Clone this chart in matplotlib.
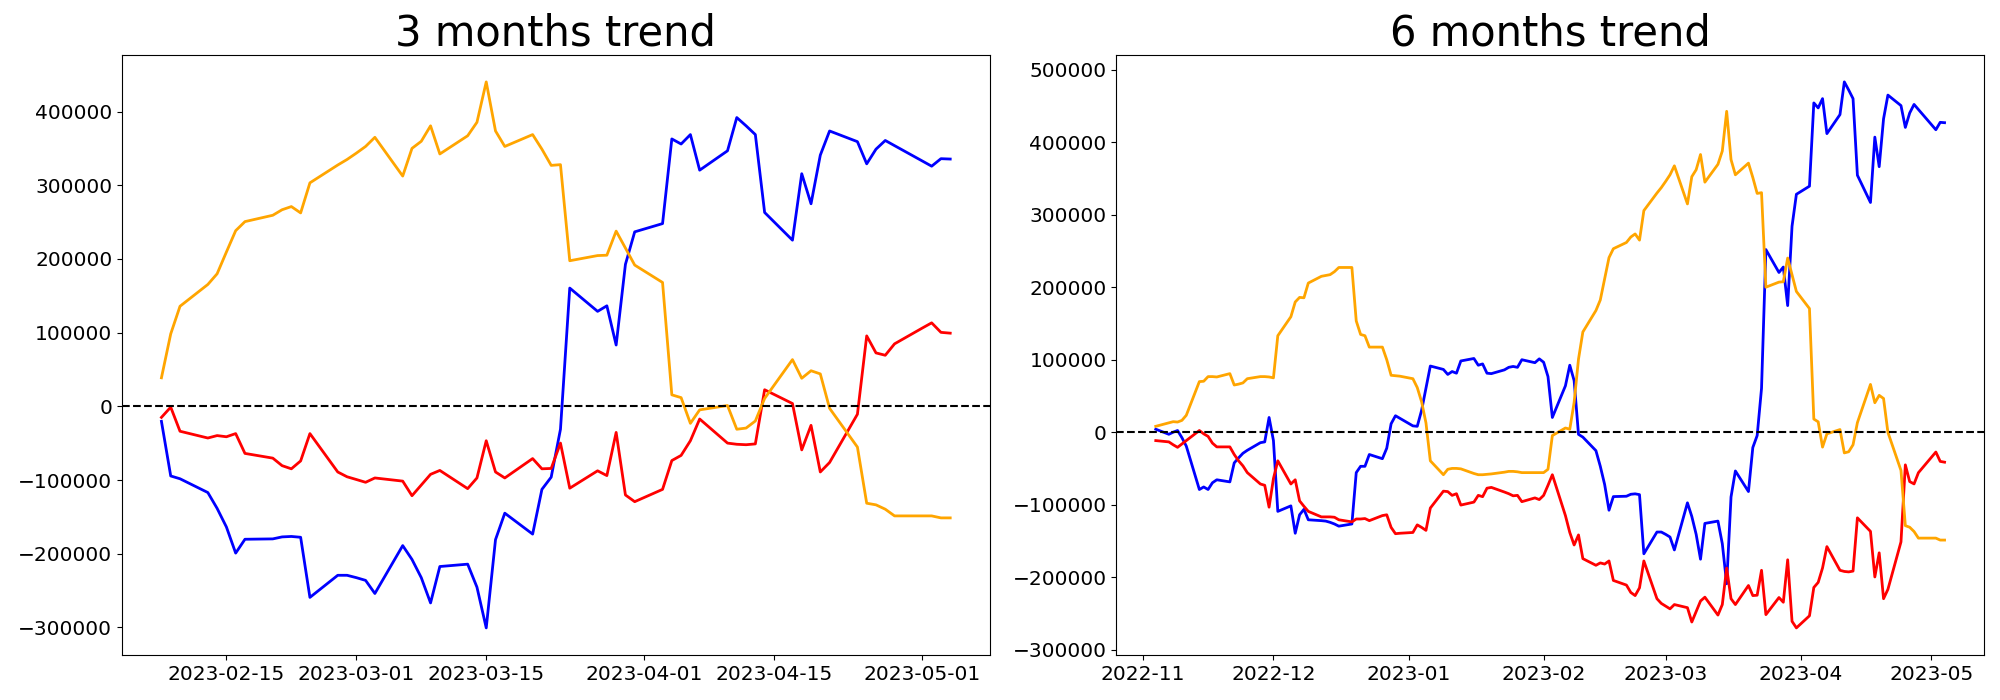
import matplotlib
matplotlib.use('Agg')
from matplotlib import pyplot as plt
import matplotlib.dates as mdates
import pandas as pd

# 3 months window (weekdays 2023-02-08 .. 2023-05-04)
dates_3m = pd.bdate_range('2023-02-08', '2023-05-04')
blue_3m = [-20400, -94500, -98300, -117000, -138500, -163700, -199200, -180400,
           -179900, -177200, -176600, -177700, -259300, -229300, -229300,
           -232500, -236200, -254000, -189000, -207800, -232500, -266800, -217400,
           -214200, -245400, -300700, -180900, -145000, -173400, -112700, -96100,
           -31100, 160500, 128900, 136400, 83200, 192700, 236800,
           248000, 362900, 356000, 368800, 320500, 346800, 391900, 380700, 368800,
           263100, 225500, 315700, 274900, 340900, 373700, 359200, 329100, 349000,
           360800, 353800,
           332900, 325900, 336100, 335600]
orange_3m = [38700, 98300, 135800, 165400, 179900, 209400, 238400, 250700,
             259300, 266800, 271100, 262500, 303300, 327500, 335000,
             343600, 352700, 365100, 312500, 350100, 359700, 380700, 342500,
             367200, 385500, 440300, 373700, 352700, 368800, 349000, 327000,
             328000, 197600, 204600, 205100, 237800, 214800, 191700,
             168100, 15600, 11800, -23100, -4800, 1100, -31100, -29500, -19900,
             10700, 63400, 38100, 48300, 44000, -2700, -55300, -131500, -133700,
             -139600, -148700,
             -148700, -148700, -151400, -151400]
red_3m = [-15000, -1100, -33800, -43000, -39700, -41300, -37000, -63900,
          -70300, -80500, -84800, -74100, -37000, -89100, -95600,
          -99300, -103100, -97200, -101500, -121300, -106800, -92300, -87000,
          -111700, -97200, -46700, -89100, -97200, -70900, -84800, -84300,
          -49900, -111100, -87500, -94000, -35400, -120300, -129400,
          -112700, -73600, -66600, -46700, -17200, -49900, -51500, -52100, -51000,
          22500, 3800, -59100, -25800, -89100, -76200, -10700, 95600, 72500,
          69300, 84800,
          106300, 113300, 100400, 99300]

# 6 months window (weekdays 2022-11-04 .. 2023-05-04)
dates_6m = pd.bdate_range('2022-11-04', '2023-05-04')
blue_6m = [4100, -2900, 0, 2300, -7600, -19200, -79100, -75600, -79100, -69800,
           -65700, -68600, -42400, -35500, -29100, -25000, -14500, -13400, 20300,
           -11600, -109300, -101700, -139500, -114000, -106400, -120900, -122100,
           -122700, -124400, -126700, -129700, -126700, -55800, -47100, -47100,
           -30800, -36600, -22100, 11600, 22700, 19200,
           8700, 8100, 30200, 60500, 91300, 86600, 79700, 83700, 81400, 98300,
           101700, 92400, 94200, 81400, 80800, 86000, 89500, 90700, 89500, 100000,
           95900, 101200, 96500, 76700, 20300, 64000, 92400,
           71100, -3000, -6800, -25500, -47000, -72200, -107700, -88900, -88400,
           -85700, -85100, -86200, -167800, -137800, -137800,
           -141000, -144700, -162500, -97500, -116300, -141000, -175300, -125900,
           -122700, -153900, -209200, -89400, -53500, -81900, -21200, -4600,
           60400, 252000, 220400, 227900, 174700, 284200, 328300,
           339500, 454400, 447500, 460300, 412000, 438300, 483400, 472200, 460300,
           354600, 317000, 407200, 366400, 432400, 465200, 450700, 420600, 440500,
           452300, 445300,
           424400, 417400, 427600, 427100]
orange_6m = [8100, 12800, 14500, 14000, 16300, 23300, 69800, 70300, 76700, 76700,
             76200, 80800, 65100, 66300, 68000, 73800, 76700, 76700, 76200,
             75000, 133100, 159300, 179700, 186000, 185500, 205800, 215100,
             216300, 217400, 221500, 227300, 227300, 153500, 134900, 133100,
             117400, 117400, 100000, 78500, 77900, 77300,
             73800, 61600, 41900, 12800, -39500, -58700, -51200, -50000, -50000,
             -50600, -57000, -58700, -58700, -58100, -57600, -55200, -54100,
             -54100, -54700, -55800, -55800, -55800, -55800, -51200, -4700, 5800,
             4100,
             41200, 100800, 138300, 167900, 182400, 211900, 240900, 253200,
             261800, 269300, 273600, 265000, 305800, 330000, 337500,
             346100, 355200, 367600, 315000, 352600, 362200, 383200, 345000,
             369700, 388000, 442800, 376200, 355200, 371300, 351500, 329500,
             330500, 200100, 207100, 207600, 240300, 217300, 194200,
             170600, 18100, 14300, -20600, -2300, 3600, -28600, -27000, -17400,
             13200, 65900, 40600, 50800, 46500, -200, -52800, -129000, -131200,
             -137100, -146200,
             -146200, -146200, -148900, -148900]
red_6m = [-11600, -13400, -17400, -20900, -16300, -11600, 2300, -2300, -5800,
          -15100, -20300, -20300, -30800, -39500, -46500, -55800, -71500, -73300,
          -103500, -64000, -39500, -71500, -65700, -94800, -102300, -109300,
          -116900, -116900, -116900, -117400, -120900, -123800, -119800, -119800,
          -119200, -122100, -115100, -114000, -131400, -140100, -139500,
          -138400, -127900, -131400, -135500, -104700, -81400, -82000, -87200,
          -84900, -100600, -96500, -87200, -89000, -77300, -76200, -82600,
          -84900, -87800, -87200, -95900, -90700, -93000, -87200, -73300,
          -58700, -115100, -138400,
          -155700, -141800, -174500, -183700, -180400, -182000, -177700, -204600,
          -211000, -221200, -225500, -214800, -177700, -229800, -236300,
          -240000, -243800, -237900, -242200, -262000, -247500, -233000, -227700,
          -252400, -237900, -187400, -229800, -237900, -211600, -225500, -225000,
          -190600, -251800, -228200, -234700, -176100, -261000, -270100,
          -253400, -214300, -207300, -187400, -157900, -190600, -192200, -192800,
          -191700, -118200, -136900, -199800, -166500, -229800, -216900, -151400,
          -45100, -68200, -71400, -55900,
          -34400, -27400, -40300, -41400]

fig, (ax1, ax2) = plt.subplots(1, 2, figsize=(20, 7), dpi=100)
plt.subplots_adjust(left=0.061, right=0.992, bottom=0.064, top=0.922, wspace=0.146)

ax1.plot(dates_3m, blue_3m, color='blue', lw=2)
ax1.plot(dates_3m, red_3m, color='red', lw=2)
ax1.plot(dates_3m, orange_3m, color='orange', lw=2)
ax1.axhline(0, color='black', linestyle='--', lw=1.5)
ax1.set_title('3 months trend', fontsize=30)
ax1.xaxis.set_major_locator(mdates.DayLocator(bymonthday=[1, 15]))
ax1.xaxis.set_major_formatter(mdates.DateFormatter('%Y-%m-%d'))

ax2.plot(dates_6m, blue_6m, color='blue', lw=2)
ax2.plot(dates_6m, red_6m, color='red', lw=2)
ax2.plot(dates_6m, orange_6m, color='orange', lw=2)
ax2.axhline(0, color='black', linestyle='--', lw=1.5)
ax2.set_title('6 months trend', fontsize=30)
ax2.xaxis.set_major_locator(mdates.MonthLocator())
ax2.xaxis.set_major_formatter(mdates.DateFormatter('%Y-%m'))

for ax in (ax1, ax2):
    ax.tick_params(labelsize=14.5)

plt.savefig('out.png')
